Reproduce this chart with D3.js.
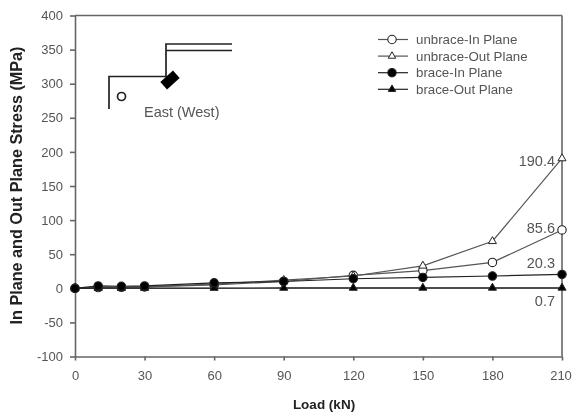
<!DOCTYPE html>
<html lang="en">
<head>
<meta charset="UTF-8">
<title>In Plane and Out Plane Stress</title>
<script src="https://d3js.org/d3.v7.min.js"></script>
<style>
    html, body { margin: 0; padding: 0; background: #fff; }
    svg { display: block; filter: blur(0.4px); }
    text { font-family: "Liberation Sans", Arial, sans-serif; fill: #555; }
</style>
</head>
<body>
<div id="chart"></div>
<script>
const loads = [0, 10, 20, 30, 60, 90, 120, 150, 180, 210];
const xTicks = [0, 30, 60, 90, 120, 150, 180, 210];
const yTicks = [-100, -50, 0, 50, 100, 150, 200, 250, 300, 350, 400];

const unbraceIn = [0, 1, 1.5, 2, 5, 10, 19, 26, 38, 85.6];
const unbraceOut = [0, 1, 1.5, 2, 6, 12, 18, 33, 69, 190.4];
const braceIn = [0, 3.5, 3, 3.5, 8, 10, 14, 16, 18, 20.3];
const braceOut = [0, 0.2, 0.2, 0.3, 0.4, 0.5, 0.5, 0.6, 0.6, 0.7];

const seriesNames = ["unbrace-In Plane", "unbrace-Out Plane", "brace-In Plane", "brace-Out Plane"];
const endLabels = ["85.6", "190.4", "20.3", "0.7"];

const width = 572, height = 414;
const svg = d3.select("#chart").append("svg").attr("width", width).attr("height", height);

const x = d3.scaleLinear().domain([0, 210]).range([75, 562]);
const y = d3.scaleLinear().domain([-100, 400]).range([356.5, 15.5]);
const axisColor = "#666";

// axes
const gx = svg.append("g").attr("transform", `translate(0,${y(-100)})`)
    .call(d3.axisBottom(x).tickValues(xTicks).tickSize(4).tickSizeOuter(0).tickPadding(10));
const gy = svg.append("g").attr("transform", `translate(${x(0)},0)`)
    .call(d3.axisLeft(y).tickValues(yTicks).tickSize(5).tickSizeOuter(0).tickPadding(7)
        .tickFormat(d => String(d)));
[gx, gy].forEach(g => {
    g.selectAll("path, line").attr("stroke", axisColor).attr("stroke-width", 1.6);
    g.selectAll("text").attr("font-size", 13).style("fill", "#555");
});
// last label sits right against the page edge
gx.selectAll("text").filter(d => d === 210).attr("dx", -1.5);

// frame and zero line
svg.append("line").attr("x1", x(0)).attr("x2", x(210)).attr("y1", y(400)).attr("y2", y(400))
    .attr("stroke", axisColor).attr("stroke-width", 1.6);
svg.append("line").attr("x1", x(210)).attr("x2", x(210)).attr("y1", y(400)).attr("y2", y(-100))
    .attr("stroke", axisColor).attr("stroke-width", 1.6);
svg.append("line").attr("x1", x(0)).attr("x2", x(210)).attr("y1", y(0)).attr("y2", y(0))
    .attr("stroke", "#777").attr("stroke-width", 1.2);

const line = d3.line().x((d, i) => x(loads[i])).y(d => y(d));

function marker(sel, kind, triSize) {
    if (kind === 0 || kind === 2) {
        return sel.append("circle").attr("r", 4.2)
            .attr("fill", kind === 0 ? "#fff" : "#000")
            .attr("stroke", "#222").attr("stroke-width", 1.1);
    }
    return sel.append("path").attr("d", d3.symbol().type(d3.symbolTriangle).size(triSize))
        .attr("fill", kind === 1 ? "#fff" : "#000")
        .attr("stroke", "#222").attr("stroke-width", 1);
}

[unbraceIn, unbraceOut, braceOut, braceIn].forEach(values => {
    const kind = [unbraceIn, unbraceOut, braceIn, braceOut].indexOf(values);
    svg.append("path").attr("d", line(values)).attr("fill", "none")
        .attr("stroke", kind < 2 ? "#555" : "#222").attr("stroke-width", 1.2);
    values.forEach((v, i) => {
        const g = svg.append("g").attr("transform", `translate(${x(loads[i])},${y(v)})`);
        marker(g, kind, 28);
    });
});

// end value labels
const labelY = [233, 166, 268, 306];
endLabels.forEach((t, i) => {
    svg.append("text").attr("x", 555).attr("y", labelY[i]).attr("text-anchor", "end")
        .attr("font-size", 14.5).text(t);
});

// legend
seriesNames.forEach((name, i) => {
    const ly = 39.5 + i * 16.6;
    svg.append("line").attr("x1", 378).attr("x2", 408).attr("y1", ly).attr("y2", ly)
        .attr("stroke", i < 2 ? "#555" : "#222").attr("stroke-width", 1.2);
    marker(svg.append("g").attr("transform", `translate(392,${ly})`), i, 24);
    svg.append("text").attr("x", 416).attr("y", ly + 4.5).attr("font-size", 13.3).text(name);
});

// inset sketch of the joint
const sketch = svg.append("g").attr("fill", "none").attr("stroke", "#222").attr("stroke-width", 1.7);
sketch.append("path").attr("d", d3.line()([[109, 109], [109, 76.5], [166, 76.5], [166, 44], [232, 44]]));
sketch.append("path").attr("d", d3.line()([[166, 50.5], [232, 50.5]]));
sketch.append("circle").attr("cx", 121.5).attr("cy", 96.5).attr("r", 4);
svg.append("rect").attr("x", -8.5).attr("y", -5).attr("width", 17).attr("height", 10)
    .attr("transform", "translate(170,80) rotate(-42)").attr("fill", "#000");
svg.append("text").attr("x", 144).attr("y", 117).attr("font-size", 14.5).text("East (West)");

// axis titles
svg.append("text").attr("x", 324).attr("y", 409).attr("text-anchor", "middle")
    .attr("font-size", 13.5).attr("font-weight", "bold").style("fill", "#222").text("Load (kN)");
svg.append("text").attr("transform", "translate(22,185.5) rotate(-90)").attr("text-anchor", "middle")
    .attr("font-size", 16.2).attr("font-weight", "bold").style("fill", "#222")
    .text("In Plane and Out Plane Stress (MPa)");
</script>
</body>
</html>
